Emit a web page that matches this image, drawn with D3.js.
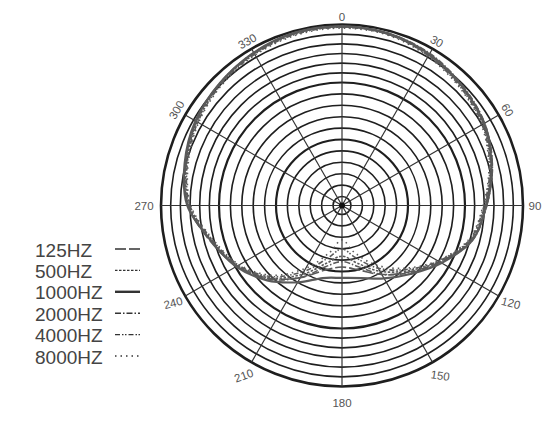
<!DOCTYPE html>
<html>
<head>
<meta charset="utf-8">
<script src="https://cdn.jsdelivr.net/npm/d3@7"></script>
<style>
  body { margin: 0; background: #fff; }
  svg { display: block; font-family: "Liberation Sans", Arial, sans-serif; }
</style>
</head>
<body>
<div id="chart"></div>
<script>
// polar angles (deg, clockwise from top)
var angles = [0, 15, 30, 45, 60, 75, 90, 105, 120, 135, 150, 165,
  180, 195, 210, 225, 240, 255, 270, 285, 300, 315, 330, 345];

// relative response per frequency (1 = outer ring)
var hz125 = [0.99, 0.98, 0.96, 0.935, 0.91, 0.86, 0.8, 0.74, 0.625, 0.52, 0.44, 0.37,
  0.34, 0.37, 0.46, 0.57, 0.67, 0.755, 0.85, 0.895, 0.93, 0.955, 0.97, 0.985];
var hz500 = [0.985, 0.98, 0.96, 0.93, 0.9, 0.85, 0.79, 0.735, 0.62, 0.51, 0.42, 0.33,
  0.28, 0.33, 0.44, 0.565, 0.665, 0.745, 0.845, 0.89, 0.925, 0.95, 0.97, 0.985];
var hz1000 = [0.99, 0.985, 0.965, 0.935, 0.905, 0.855, 0.795, 0.745, 0.635, 0.535, 0.465, 0.415,
  0.4, 0.415, 0.49, 0.585, 0.675, 0.75, 0.855, 0.9, 0.935, 0.955, 0.975, 0.99];
var hz2000 = [0.99, 0.985, 0.97, 0.94, 0.91, 0.86, 0.8, 0.745, 0.63, 0.525, 0.44, 0.35,
  0.31, 0.35, 0.46, 0.575, 0.67, 0.75, 0.85, 0.895, 0.93, 0.955, 0.975, 0.99];
var hz4000 = [0.985, 0.98, 0.955, 0.925, 0.895, 0.845, 0.785, 0.73, 0.615, 0.5, 0.4, 0.3,
  0.24, 0.3, 0.42, 0.555, 0.66, 0.74, 0.84, 0.885, 0.92, 0.945, 0.965, 0.98];
var hz8000 = [0.98, 0.975, 0.95, 0.92, 0.89, 0.84, 0.78, 0.725, 0.61, 0.49, 0.38, 0.27,
  0.19, 0.27, 0.4, 0.545, 0.655, 0.735, 0.835, 0.88, 0.915, 0.94, 0.96, 0.975];

var seriesNames = ["125HZ", "500HZ", "1000HZ", "2000HZ", "4000HZ", "8000HZ"];
var seriesValues = [hz125, hz500, hz1000, hz2000, hz4000, hz8000];

var spokeLabels = [0, 30, 60, 90, 120, 150, 180, 210, 240, 270, 300, 330];
var ringCount = 17;

var width = 559, height = 424,
  cx = 342, cy = 205.5, R = 181;

// line looks for each series (legend + curves)
var dashes = ["11,3", "2.5,1.5", null, "6,2,1.5,2", "5,2,1.5,1.5,1.5,2", "1.5,4"];
var legendWidths = [1.4, 1.4, 2.4, 1.6, 1.4, 1.5];
var curveWidths = [1.6, 1.6, 2.2, 1.6, 1.6, 1.6];
// text tilt of angle labels
var labelTilt = { 0: 0, 30: 30, 60: 60, 90: 0, 120: 15, 150: 8, 180: 0,
  210: -20, 240: -15, 270: 0, 300: -60, 330: -30 };

var rad = (a) => (a * Math.PI) / 180;

var r = d3.scaleLinear().domain([0, 1]).range([0, R]);
// grid rings get a little tighter toward the rim
var ringR = d3.scaleLinear().domain([0, 1, 11, ringCount]).range([0, 9, 123, R]);

var svg = d3
  .select("#chart")
  .append("svg")
  .attr("width", width)
  .attr("height", height)
  .attr("viewBox", [0, 0, width, height]);

var g = svg.append("g").attr("transform", "translate(" + cx + "," + cy + ")");

// rings
g.selectAll(".ring")
  .data(d3.range(1, ringCount + 1))
  .enter()
  .append("circle")
  .attr("class", "ring")
  .attr("r", (d) => ringR(d))
  .attr("fill", "none")
  .attr("stroke", "#1e1e1e")
  .attr("stroke-width", (d) => (d === ringCount ? 2.6 : d === 6 || d === 11 ? 2.2 : 1.6));

// spokes
g.selectAll(".spoke")
  .data(spokeLabels)
  .enter()
  .append("line")
  .attr("class", "spoke")
  .attr("x1", 0)
  .attr("y1", 0)
  .attr("x2", (d) => R * Math.sin(rad(d)))
  .attr("y2", (d) => -R * Math.cos(rad(d)))
  .attr("stroke", "#333")
  .attr("stroke-width", 1.2);

g.append("circle").attr("r", 3).attr("fill", "#111");

// angle labels
g.selectAll(".alabel")
  .data(spokeLabels)
  .enter()
  .append("text")
  .attr("class", "alabel")
  .attr("transform", function (d) {
    var rr = 189 + 4 * (1 - Math.cos(rad(d))) + (d === 270 ? 5 : 0);
    var x = rr * Math.sin(rad(d)),
      y = -rr * Math.cos(rad(d));
    return "translate(" + x + "," + y + ") rotate(" + labelTilt[d] + ")";
  })
  .attr("text-anchor", "middle")
  .attr("dominant-baseline", "central")
  .attr("font-size", "11.5px")
  .attr("fill", "#555")
  .text((d) => d);

// response curves
var line = d3
  .lineRadial()
  .angle((d, i) => rad(angles[i]))
  .radius((d) => r(d))
  .curve(d3.curveCardinalClosed);

g.selectAll(".curve")
  .data(seriesValues)
  .enter()
  .append("path")
  .attr("class", "curve")
  .attr("d", (d) => line(d))
  .attr("fill", "none")
  .attr("stroke", "#5a5a5a")
  .attr("stroke-width", (d, i) => curveWidths[i])
  .attr("stroke-dasharray", (d, i) => dashes[i]);

// legend
var legendY = d3.scalePoint().domain(seriesNames).range([250, 357]);

var legend = svg
  .selectAll(".legend")
  .data(seriesNames)
  .enter()
  .append("g")
  .attr("class", "legend")
  .attr("transform", (d) => "translate(0," + legendY(d) + ")");

legend
  .append("text")
  .attr("x", 35)
  .attr("y", 0)
  .attr("dominant-baseline", "central")
  .attr("font-size", "19px")
  .attr("fill", "#444")
  .text((d) => d);

legend
  .append("line")
  .attr("x1", 115)
  .attr("x2", 140)
  .attr("y1", -1)
  .attr("y2", -1)
  .attr("stroke", "#333")
  .attr("stroke-width", (d, i) => legendWidths[i])
  .attr("stroke-dasharray", (d, i) => dashes[i]);
</script>
</body>
</html>
